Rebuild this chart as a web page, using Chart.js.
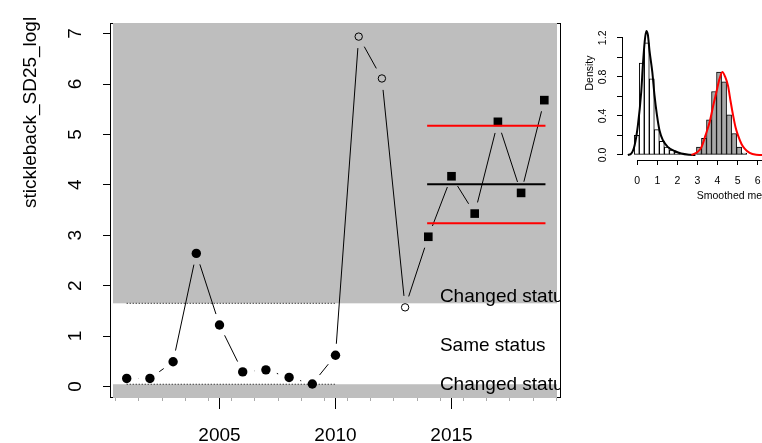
<!DOCTYPE html>
<html><head><meta charset="utf-8">
<script src="https://cdn.jsdelivr.net/npm/chart.js@4.4.1/dist/chart.umd.min.js"></script>
<style>
html,body{margin:0;padding:0;background:#fff;overflow:hidden}
#wrap{position:relative;width:762px;height:443px;overflow:hidden;background:#fff}
#main{position:absolute;left:0;top:0}
#inset{position:absolute;left:560px;top:0}
</style></head><body>
<div id="wrap"><canvas id="main" width="762" height="443"></canvas><canvas id="inset" width="240" height="443"></canvas></div>
<script>
// ---------- main panel data ----------
const refYears   = [2001,2002,2003,2004,2005,2006,2007,2008,2009,2010];
const refValues  = [0.16,0.16,0.49,2.64,1.22,0.29,0.33,0.18,0.05,0.62];
const gapYears   = [2011,2012,2013];
const gapValues  = [6.94,6.11,1.57];
const newYears   = [2014,2015,2016,2017,2018,2019];
const newValues  = [2.97,4.17,3.43,5.25,3.84,5.68];
const levelSpan  = [2013.95,2019.05];
const meanLevel  = 4.01;
const upperLevel = 5.17;
const lowerLevel = 3.24;
const thresholdSpan  = [2001,2010];
const upperThreshold = 1.65;
const lowerThreshold = 0.045;
const statusLabels = ['Changed status','Same status','Changed status'];
const statusValues = [1.78,0.80,0.03];
const statusYear   = 2014.5;
const xTicks      = [2005,2010,2015];
const xMinorTicks = [2000.5,2001.5,2002.5,2003.5,2004.5,2005.5,2006.5,2007.5,2008.5,2009.5,2010.5,2011.5,2012.5,2013.5,2014.5,2015.5,2016.5,2017.5,2018.5,2019.5];
const yTicks      = [0,1,2,3,4,5,6,7];
const yTitle      = 'stickleback_SD25_logl';

// ---------- inset data ----------
const whiteBinCenters = [-0.025,0.225,0.475,0.725,0.975,1.225,1.475,1.725,1.975,2.225];
const whiteDensity    = [0.20,0.94,1.15,0.78,0.26,0.14,0.08,0.05,0.03,0.015];
const grayBinCenters  = [3.075,3.325,3.575,3.825,4.075,4.325,4.575,4.825,5.075,5.325];
const grayDensity     = [0.08,0.17,0.36,0.65,0.85,0.75,0.41,0.22,0.08,0.02];
const curveRefX = [-0.47,-0.3,-0.13,0.03,0.2,0.28,0.37,0.45,0.53,0.61,0.75,0.86,0.98,1.11,1.28,1.53,1.86,2.19,2.6,2.9];
const curveRefY = [0,0.014,0.1,0.3,0.65,0.92,1.16,1.27,1.23,1.07,0.85,0.61,0.41,0.25,0.15,0.08,0.04,0.014,0.002,0];
const curveNewX = [2.7,3.0,3.2,3.4,3.61,3.8,3.95,4.1,4.24,4.38,4.52,4.65,4.77,4.9,5.02,5.2,5.35,5.6,5.93,6.4];
const curveNewY = [0,0.03,0.08,0.2,0.34,0.52,0.65,0.78,0.85,0.8,0.71,0.55,0.41,0.28,0.2,0.11,0.065,0.02,0.003,0];
const insetXTicks = [0,1,2,3,4,5,6,7];
const insetYTicks = [0,0.2,0.4,0.6,0.8,1.0,1.2];
const insetYLabels = [0,0.4,0.8,1.2];
const insetXTitle = 'Smoothed means';
const insetYTitle = 'Density';

const FONT = '"Liberation Sans", Arial, Helvetica, sans-serif';
Chart.defaults.font.family = FONT;
Chart.defaults.color = '#000';

const allYears  = refYears.concat(gapYears, newYears);
const allValues = refValues.concat(gapValues, newValues);
const pts = (xs, ys) => xs.map((x, i) => ({x, y: ys[i]}));
const flat = (xs, v) => xs.map(x => ({x, y: v}));

const mainDecor = {
  id: 'mainDecor',
  beforeDatasetsDraw(chart) {
    const {ctx, chartArea: a, scales: {x, y}} = chart;
    ctx.save();
    // box
    ctx.strokeStyle = '#000'; ctx.lineWidth = 1;
    ctx.strokeRect(a.left + 0.5, a.top + 0.5, a.right - a.left - 1, a.bottom - a.top - 1);
    // shaded status regions
    ctx.fillStyle = '#bebebe';
    const gx0 = a.left + 3, gx1 = a.right - 4;
    const yu = y.getPixelForValue(upperThreshold);
    ctx.fillRect(gx0, a.top, gx1 - gx0, yu - a.top);
    const yl = y.getPixelForValue(lowerThreshold);
    ctx.fillRect(gx0, yl, gx1 - gx0, a.bottom - yl);
    // minor ticks
    ctx.strokeStyle = '#aaaaaa';
    ctx.beginPath();
    xMinorTicks.forEach(v => {
      const px = Math.round(x.getPixelForValue(v)) + 0.5;
      ctx.moveTo(px, a.bottom); ctx.lineTo(px, a.bottom + 3);
    });
    ctx.stroke();
    // type "b" connecting line with gaps around points
    const P = allYears.map((yr, i) => [x.getPixelForValue(yr), y.getPixelForValue(allValues[i])]);
    const gap = 11.5;
    ctx.strokeStyle = '#000'; ctx.lineWidth = 1;
    ctx.beginPath();
    for (let i = 0; i < P.length - 1; i++) {
      const dx = P[i+1][0] - P[i][0], dy = P[i+1][1] - P[i][1];
      const d = Math.hypot(dx, dy);
      if (d <= 2 * gap) continue;
      const ux = dx / d, uy = dy / d;
      ctx.moveTo(P[i][0] + ux * gap, P[i][1] + uy * gap);
      ctx.lineTo(P[i+1][0] - ux * gap, P[i+1][1] - uy * gap);
    }
    ctx.stroke();
    ctx.restore();
  },
  afterDatasetsDraw(chart) {
    const {ctx, chartArea: a, scales: {x, y}} = chart;
    ctx.save();
    ctx.beginPath(); ctx.rect(a.left, a.top, a.right - a.left, a.bottom - a.top); ctx.clip();
    ctx.fillStyle = '#000';
    ctx.font = '19px ' + FONT;
    ctx.textAlign = 'left'; ctx.textBaseline = 'middle';
    statusLabels.forEach((t, i) => ctx.fillText(t, x.getPixelForValue(statusYear), y.getPixelForValue(statusValues[i])));
    ctx.restore();
  },
  afterDraw(chart) {
    const {ctx, scales: {y}} = chart;
    ctx.save();
    ctx.fillStyle = '#000';
    ctx.font = '19px ' + FONT;
    ctx.textAlign = 'center'; ctx.textBaseline = 'middle';
    yTicks.forEach(v => {
      ctx.save();
      ctx.translate(76, y.getPixelForValue(v));
      ctx.rotate(-Math.PI / 2);
      ctx.fillText(String(v), 0, 0);
      ctx.restore();
    });
    ctx.save();
    ctx.translate(31, 208);
    ctx.rotate(-Math.PI / 2);
    ctx.textAlign = 'left';
    ctx.fillText(yTitle, 0, 0);
    ctx.restore();
    ctx.restore();
  }
};

new Chart(document.getElementById('main'), {
  type: 'scatter',
  data: { datasets: [
    {data: flat(thresholdSpan, upperThreshold), showLine: true, borderColor: '#000', borderWidth: 1, borderDash: [1, 2], pointRadius: 0},
    {data: flat(thresholdSpan, lowerThreshold), showLine: true, borderColor: '#000', borderWidth: 1, borderDash: [1, 2], pointRadius: 0},
    {data: flat(levelSpan, upperLevel), showLine: true, borderColor: '#ff0000', borderWidth: 2, pointRadius: 0},
    {data: flat(levelSpan, lowerLevel), showLine: true, borderColor: '#ff0000', borderWidth: 2, pointRadius: 0},
    {data: flat(levelSpan, meanLevel), showLine: true, borderColor: '#000', borderWidth: 2, pointRadius: 0},
    {data: pts(refYears, refValues), pointStyle: 'circle', pointRadius: 4.7, backgroundColor: '#000', borderColor: '#000', borderWidth: 0},
    {data: pts(gapYears, gapValues), pointStyle: 'circle', pointRadius: 3.7, backgroundColor: 'rgba(0,0,0,0)', borderColor: '#000', borderWidth: 1},
    {data: pts(newYears, newValues), pointStyle: 'rect', pointRadius: 6.1, backgroundColor: '#000', borderColor: '#000', borderWidth: 0}
  ]},
  options: {
    responsive: false, animation: false, devicePixelRatio: 1,
    layout: {padding: {left: 0, top: 23, right: 201, bottom: 0}},
    plugins: {legend: {display: false}, tooltip: {enabled: false}},
    scales: {
      x: {type: 'linear', min: 2000.28, max: 2019.72,
          afterBuildTicks: s => { s.ticks = xTicks.map(v => ({value: v})); },
          afterFit: s => { s.height = 45; },
          border: {display: false},
          grid: {drawOnChartArea: false, drawTicks: true, tickLength: 11, color: '#000'},
          ticks: {font: {size: 19}, padding: 15, maxRotation: 0, autoSkip: false, callback: v => String(v)}},
      y: {type: 'linear', min: -0.228, max: 7.21,
          afterBuildTicks: s => { s.ticks = yTicks.map(v => ({value: v})); },
          afterFit: s => { s.width = 110; },
          border: {display: false},
          grid: {drawOnChartArea: false, drawTicks: true, tickLength: 7, color: '#000'},
          ticks: {display: false}}
    }
  },
  plugins: [mainDecor]
});

const insetDecor = {
  id: 'insetDecor',
  afterDraw(chart) {
    const {ctx, chartArea: a, scales: {x, y}} = chart;
    ctx.save();
    ctx.strokeStyle = '#000'; ctx.lineWidth = 1;
    ctx.beginPath();
    const by = Math.round(a.bottom) + 0.5;
    ctx.moveTo(x.getPixelForValue(insetXTicks[0]), by);
    ctx.lineTo(x.getPixelForValue(insetXTicks[insetXTicks.length - 1]), by);
    const lx = Math.round(a.left) - 0.5;
    ctx.moveTo(lx, y.getPixelForValue(insetYTicks[0]));
    ctx.lineTo(lx, y.getPixelForValue(insetYTicks[insetYTicks.length - 1]));
    ctx.stroke();
    ctx.fillStyle = '#000';
    ctx.font = '10.5px ' + FONT;
    ctx.textAlign = 'center'; ctx.textBaseline = 'middle';
    insetYLabels.forEach(v => {
      ctx.save();
      ctx.translate(43.5, y.getPixelForValue(v));
      ctx.rotate(-Math.PI / 2);
      ctx.fillText(v.toFixed(1), 0, 0);
      ctx.restore();
    });
    ctx.save();
    ctx.translate(30, 73);
    ctx.rotate(-Math.PI / 2);
    ctx.fillText(insetYTitle, 0, 0);
    ctx.restore();
    ctx.textAlign = 'left';
    ctx.fillText(insetXTitle, 136.7, 195.7);
    ctx.restore();
  }
};

new Chart(document.getElementById('inset'), {
  type: 'bar',
  data: { datasets: [
    {type: 'bar', data: pts(whiteBinCenters.concat(grayBinCenters), whiteDensity.concat(grayDensity)),
     backgroundColor: whiteBinCenters.map(() => '#ffffff').concat(grayBinCenters.map(() => '#a9a9a9')),
     borderColor: '#000', borderWidth: 1, borderSkipped: false, barPercentage: 1, categoryPercentage: 1, order: 2},
    {type: 'line', data: pts(curveRefX, curveRefY), borderColor: '#000', borderWidth: 2, pointRadius: 0, cubicInterpolationMode: 'monotone', order: 1},
    {type: 'line', data: pts(curveNewX, curveNewY), borderColor: '#ff0000', borderWidth: 2, pointRadius: 0, cubicInterpolationMode: 'monotone', order: 0}
  ]},
  options: {
    responsive: false, animation: false, devicePixelRatio: 1,
    layout: {padding: {left: 0, top: 23, right: 10, bottom: 0}},
    plugins: {legend: {display: false}, tooltip: {enabled: false}},
    scales: {
      x: {type: 'linear', offset: false, min: -0.71, max: 7.61,
          afterBuildTicks: s => { s.ticks = insetXTicks.map(v => ({value: v})); },
          afterFit: s => { s.height = 283; },
          border: {display: false},
          grid: {offset: false, drawOnChartArea: false, drawTicks: true, tickLength: 5, color: '#000'},
          ticks: {font: {size: 10.5}, padding: 10, maxRotation: 0, autoSkip: false}},
      y: {type: 'linear', min: -0.052, max: 1.352, beginAtZero: false,
          afterBuildTicks: s => { s.ticks = insetYTicks.map(v => ({value: v})); },
          afterFit: s => { s.width = 63; },
          border: {display: false},
          grid: {drawOnChartArea: false, drawTicks: true, tickLength: 6, color: '#000'},
          ticks: {display: false}}
    }
  },
  plugins: [insetDecor]
});
</script>
</body></html>
